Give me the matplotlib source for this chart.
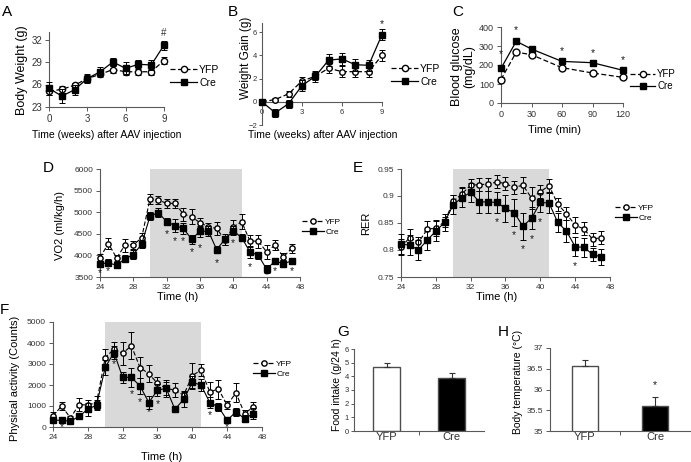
import numpy as np
import matplotlib.pyplot as plt
from matplotlib.lines import Line2D

plt.rcParams['font.family'] = ['Liberation Sans', 'DejaVu Sans']

W, H = 691, 462  # output size in pixels (dpi 100)

# ---------------- data ----------------
# A: body weight (g)
weeks = [0, 1, 2, 3, 4, 5, 6, 7, 8, 9]
bw_yfp = [25.1, 25.35, 25.9, 26.8, 27.35, 28.0, 27.7, 27.7, 27.7, 29.2]
bw_yfp_err = [0.45, 0.45, 0.35, 0.45, 0.35, 0.45, 0.4, 0.4, 0.4, 0.45]
bw_cre = [25.5, 24.45, 25.3, 26.8, 27.7, 29.0, 28.15, 28.7, 28.6, 31.25]
bw_cre_err = [0.9, 0.95, 0.7, 0.6, 0.6, 0.5, 0.8, 0.55, 0.7, 0.6]

# B: weight gain (g)
wg_yfp = [0, 0.2, 0.7, 1.8, 2.2, 2.9, 2.6, 2.6, 2.6, 4.0]
wg_yfp_err = [0.05, 0.1, 0.25, 0.3, 0.35, 0.4, 0.5, 0.5, 0.5, 0.5]
wg_cre = [0, -0.95, -0.15, 1.4, 2.2, 3.6, 3.7, 3.2, 3.15, 5.8]
wg_cre_err = [0.05, 0.35, 0.35, 0.5, 0.45, 0.5, 0.5, 0.5, 0.45, 0.45]

# C: glucose tolerance
gtt_min = [0, 15, 30, 60, 90, 120]
gtt_yfp = [123, 268, 254, 186, 158, 135]
gtt_yfp_err = [12, 12, 10, 10, 10, 8]
gtt_cre = [182, 325, 284, 219, 212, 172]
gtt_cre_err = [14, 14, 12, 10, 10, 10]
gtt_stars = [(0, 260), (15, 386), (60, 274), (90, 265), (120, 225)]

# D, E, F: time course (h)
hours = list(range(24, 48))
vo2_yfp = [3950, 4275, 3940, 4240, 4240, 4410, 5306, 5283, 5205, 5205, 4957, 4895,
           4755, 4663, 4624, 4350, 4660, 4780, 4330, 4330, 4080, 4240, 3965, 4160]
vo2_yfp_err = [90, 120, 60, 150, 100, 120, 110, 100, 100, 100, 150, 170,
               100, 90, 150, 100, 170, 170, 140, 150, 160, 110, 80, 110]
vo2_cre = [3800, 3830, 3770, 3925, 4020, 4260, 4910, 4990, 4780, 4690, 4625, 4375,
           4560, 4560, 4135, 4375, 4570, 4410, 4080, 4000, 3680, 3870, 3810, 3870]
vo2_cre_err = [80, 80, 70, 80, 100, 90, 90, 100, 80, 150, 120, 100,
               130, 120, 80, 130, 100, 80, 130, 80, 90, 80, 80, 80]
vo2_stars = [(24, 3600), (25, 3630), (32, 4490), (33, 4340), (34, 4340), (35, 4075),
             (36, 4180), (38, 3825), (40, 4275), (42, 3730), (44, 3550), (45, 3630),
             (47, 3630)]

rer_yfp = [0.805, 0.823, 0.814, 0.838, 0.841, 0.852, 0.890, 0.904, 0.920, 0.921, 0.922, 0.926,
           0.923, 0.916, 0.920, 0.896, 0.908, 0.919, 0.885, 0.867, 0.846, 0.839, 0.820, 0.823]
rer_yfp_err = [0.015, 0.015, 0.01, 0.015, 0.015, 0.01, 0.012, 0.012, 0.012, 0.012, 0.012, 0.012,
               0.012, 0.012, 0.015, 0.02, 0.012, 0.012, 0.012, 0.012, 0.015, 0.012, 0.012, 0.012]
rer_cre = [0.811, 0.809, 0.800, 0.818, 0.835, 0.851, 0.884, 0.897, 0.907, 0.889, 0.889, 0.888,
           0.877, 0.869, 0.844, 0.859, 0.888, 0.887, 0.851, 0.835, 0.806, 0.805, 0.792, 0.787]
rer_cre_err = [0.018, 0.018, 0.018, 0.018, 0.018, 0.015, 0.018, 0.018, 0.018, 0.02, 0.02, 0.02,
               0.025, 0.025, 0.025, 0.02, 0.018, 0.018, 0.018, 0.02, 0.018, 0.018, 0.012, 0.014]
rer_stars = [(35, 0.851), (37, 0.828), (38, 0.801), (39, 0.821), (40, 0.851), (44, 0.770)]

act_yfp = [530, 1000, 430, 1070, 1040, 1165, 3307, 3706, 3514, 3866, 2827, 2540,
           2076, 1837, 1757, 1518, 2444, 2716, 1677, 1805, 1038, 1629, 639, 958]
act_yfp_err = [200, 200, 100, 300, 250, 300, 400, 350, 550, 650, 500, 400,
               300, 300, 350, 200, 600, 300, 450, 450, 200, 450, 150, 250]
act_cre = [320, 320, 272, 511, 847, 1038, 2843, 3546, 2364, 2364, 1949, 1166,
           1757, 1837, 847, 1310, 2125, 1997, 1166, 958, 320, 719, 400, 640]
act_cre_err = [100, 100, 100, 150, 300, 250, 350, 300, 250, 450, 400, 300,
               300, 400, 100, 350, 300, 300, 250, 200, 100, 200, 150, 250]
act_stars = [(25, 0), (31, 2990), (33, 1565), (34, 1200), (35, 690), (36, 1070),
             (42, 560), (44, -20)]

# G, H: bars
groups = ['YFP', 'Cre']
food = [4.7, 3.9]
food_err = [0.25, 0.35]
temp = [36.57, 35.6]
temp_err = [0.15, 0.23]

# ---------------- figure ----------------
fig = plt.figure(figsize=(W / 100, H / 100), dpi=100)


def add_ax(left, top, right, bottom):
    # axes placed by pixel edges
    return fig.add_axes([left / W, 1 - bottom / H, (right - left) / W, (bottom - top) / H])


def ftext(x, y, s, **kw):
    fig.text(x / W, 1 - y / H, s, **kw)


def style(ax, fs):
    for s in ['top', 'right']:
        ax.spines[s].set_visible(False)
    for s in ['left', 'bottom']:
        ax.spines[s].set_color('0.35')
        ax.spines[s].set_linewidth(0.8)
    ax.tick_params(direction='out', length=3, width=0.7, color='0.35',
                   labelsize=fs, pad=2, labelcolor='0.2')


def two_lines(ax, x, y1, e1, y2, e2, ms, lw=0.9):
    ax.errorbar(x, y1, yerr=e1, fmt='o', ls=(0, (4, 2)), color='k', mfc='white', mec='k',
                ms=ms, lw=lw, elinewidth=0.7, capsize=2, capthick=0.7, clip_on=False, zorder=3)
    ax.errorbar(x, y2, yerr=e2, fmt='s', ls='-', color='k', mfc='k', mec='k',
                ms=ms, lw=lw, elinewidth=0.7, capsize=2, capthick=0.7, clip_on=False, zorder=4)


def legend(x, y, fs, ms):
    handles = [Line2D([], [], ls=(0, (4, 2)), marker='o', color='k', mfc='white', ms=ms, lw=0.9),
               Line2D([], [], ls='-', marker='s', color='k', mfc='k', ms=ms, lw=0.9)]
    fig.legend(handles, ['YFP', 'Cre'], loc='upper left', bbox_to_anchor=(x / W, 1 - y / H),
               frameon=False, fontsize=fs, handlelength=2.6, handletextpad=0.2,
               labelspacing=0.25, borderpad=0, borderaxespad=0)


def stars(ax, pts, fs=7.5):
    for px, py in pts:
        ax.text(px, py, '*', ha='center', va='center', fontsize=fs, color='0.1')


# panel A
ax = add_ax(49, 32, 164, 107)
style(ax, 7)
two_lines(ax, weeks, bw_yfp, bw_yfp_err, bw_cre, bw_cre_err, ms=4.5)
ax.set_xlim(0, 9)
ax.set_ylim(23, 33)
ax.set_xticks([0, 3, 6, 9])
ax.set_yticks([23, 26, 29, 32])
ax.text(9, 32.9, '#', ha='center', va='center', fontsize=7, color='0.2')
ftext(22, 70, 'Body Weight (g)', rotation=90, ha='center', va='center', fontsize=9)
ftext(107, 135, 'Time (weeks) after AAV injection', ha='center', va='center', fontsize=7.5)
legend(170, 65, 7.5, 4.5)

# panel B
ax = add_ax(262, 23, 382, 125)
style(ax, 5.5)
ax.tick_params(axis='y', pad=1, length=2.5)
two_lines(ax, weeks, wg_yfp, wg_yfp_err, wg_cre, wg_cre_err, ms=4)
ax.spines['bottom'].set_position(('data', 0))
ax.set_xlim(0, 9)
ax.set_ylim(-2, 6.8)
ax.set_xticks([0, 3, 6, 9])
ax.set_yticks([-2, 0, 2, 4, 6])
ax.text(9, 6.7, '*', ha='center', va='center', fontsize=7.5, color='0.1')
ftext(246, 58, 'Weight Gain (g)', rotation=90, ha='center', va='center', fontsize=8.5)
ftext(323, 135, 'Time (weeks) after AAV injection', ha='center', va='center', fontsize=7.5)
legend(391, 64, 7.5, 4.5)

# panel C
ax = add_ax(501, 27, 623, 103)
style(ax, 6.5)
two_lines(ax, gtt_min, gtt_yfp, gtt_yfp_err, gtt_cre, gtt_cre_err, ms=5)
ax.set_xlim(0, 120)
ax.set_ylim(0, 400)
ax.set_xticks([0, 30, 60, 90, 120])
ax.set_yticks([0, 100, 200, 300, 400])
stars(ax, gtt_stars)
ftext(463, 67, 'Blood glucose\n(mg/dL)', rotation=90, ha='center', va='center',
      fontsize=9, linespacing=1.0)
ftext(555, 130, 'Time (min)', ha='center', va='center', fontsize=8)
legend(630, 69, 7, 4.5)

# panel D
ax = add_ax(100, 169, 300, 277)
style(ax, 6)
ax.axvspan(30, 41, color='#d9d9d9', lw=0, zorder=0)
two_lines(ax, hours, vo2_yfp, vo2_yfp_err, vo2_cre, vo2_cre_err, ms=3.8, lw=0.8)
ax.set_xlim(24, 48)
ax.set_ylim(3500, 6000)
ax.set_xticks(range(24, 49, 4))
ax.set_yticks(range(3500, 6001, 500))
stars(ax, vo2_stars)
ftext(60, 225, 'VO2 (ml/kg/h)', rotation=90, ha='center', va='center', fontsize=8)
ftext(178, 297, 'Time (h)', ha='center', va='center', fontsize=8)
legend(302, 218, 6, 3.8)

# panel E
ax = add_ax(401, 169, 610, 277)
style(ax, 6)
ax.axvspan(30, 41, color='#d9d9d9', lw=0, zorder=0)
two_lines(ax, hours, rer_yfp, rer_yfp_err, rer_cre, rer_cre_err, ms=3.8, lw=0.8)
ax.set_xlim(24, 48)
ax.set_ylim(0.75, 0.95)
ax.set_xticks(range(24, 49, 4))
ax.set_yticks([0.75, 0.8, 0.85, 0.9, 0.95])
ax.set_yticklabels(['0.75', '0.8', '0.85', '0.9', '0.95'])
stars(ax, rer_stars)
ftext(366, 223, 'RER', rotation=90, ha='center', va='center', fontsize=8)
ftext(497, 297, 'Time (h)', ha='center', va='center', fontsize=8)
legend(615, 204, 6, 3.8)

# panel F
ax = add_ax(53, 322, 262, 427)
style(ax, 6)
ax.axvspan(30, 41, color='#d9d9d9', lw=0, zorder=0)
two_lines(ax, hours, act_yfp, act_yfp_err, act_cre, act_cre_err, ms=3.8, lw=0.8)
ax.set_xlim(24, 48)
ax.set_ylim(0, 5000)
ax.set_xticks(range(24, 49, 4))
ax.set_yticks(range(0, 5001, 1000))
stars(ax, act_stars)
ftext(15, 378, 'Physical activity (Counts)', rotation=90, ha='center', va='center', fontsize=8)
ftext(162, 457, 'Time (h)', ha='center', va='center', fontsize=8)
legend(253, 360, 6, 3.8)


def bar_panel(ax, vals, errs, width):
    ax.bar([0, 1], vals, width=width, color=['white', 'black'], edgecolor='0.3', lw=1, zorder=2)
    ax.errorbar([0, 1], vals, yerr=[[0, 0], errs], fmt='none', ecolor='0.2',
                elinewidth=0.8, capsize=2, capthick=0.8, zorder=3)
    ax.set_xlim(-0.5, 1.5)
    ax.set_xticks([0, 1])
    ax.set_xticklabels(groups, fontsize=8)
    ax.tick_params(axis='x', length=0, pad=1)
    ax.set_xticks([0.5], minor=True)
    ax.tick_params(axis='x', which='minor', length=3, width=0.7, color='0.35')


# panel G
ax = add_ax(354, 349, 484, 431)
style(ax, 5.5)
ax.tick_params(axis='y', pad=1, length=2.5)
bar_panel(ax, food, food_err, 0.42)
ax.set_ylim(0, 6)
ax.set_yticks(range(0, 7))
ftext(337, 385, 'Food intake (g/24 h)', rotation=90, ha='center', va='center', fontsize=7.5)

# panel H
ax = add_ax(550, 348, 690, 431)
style(ax, 6)
bar_panel(ax, temp, temp_err, 0.37)
ax.set_ylim(35, 37)
ax.set_yticks([35, 35.5, 36, 36.5, 37])
ax.set_yticklabels(['35', '35.5', '36', '36.5', '37'])
ax.text(1, 36.1, '*', ha='center', va='center', fontsize=7.5, color='0.1')
ftext(518, 382, 'Body temperature (\u00b0C)', rotation=90, ha='center', va='center', fontsize=7.5)

# panel letters
for lx, ly, letter in [(2, 16, 'A'), (228, 16, 'B'), (452, 16, 'C'), (43, 172, 'D'),
                       (353, 172, 'E'), (0, 314, 'F'), (337, 336, 'G'), (498, 336, 'H')]:
    ftext(lx, ly, letter, ha='left', va='baseline', fontsize=11)

fig.savefig('out.png', dpi=100)
